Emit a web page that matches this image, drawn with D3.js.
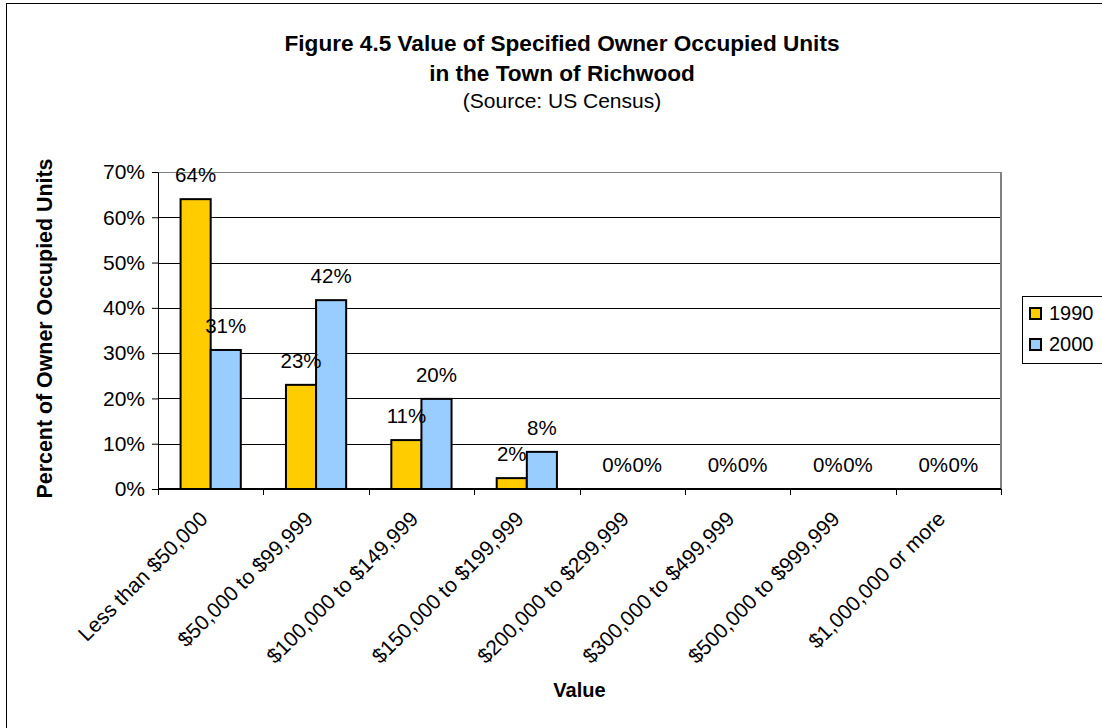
<!DOCTYPE html>
<html>
<head>
<meta charset="utf-8">
<script src="https://d3js.org/d3.v7.min.js"></script>
<style>
  body { margin: 0; background: #fff; }
  text { font-family: Arial, "Liberation Sans", sans-serif; fill: #000; }
</style>
</head>
<body>
<script>
// Chart data
var categories = ["Less than $50,000", "$50,000 to $99,999", "$100,000 to $149,999",
    "$150,000 to $199,999", "$200,000 to $299,999", "$300,000 to $499,999",
    "$500,000 to $999,999", "$1,000,000 or more"];
var seriesNames = ["1990", "2000"];
var values1990 = [0.640, 0.230, 0.108, 0.024, 0, 0, 0, 0];
var values2000 = [0.307, 0.417, 0.199, 0.082, 0, 0, 0, 0];
var yTicks = [0, 0.1, 0.2, 0.3, 0.4, 0.5, 0.6, 0.7];
var colors = ["#FFCC00", "#99CCFF"];

var fullWidth = 1102, fullHeight = 728;

// Plot area
var margin = {top: 172, right: 101, bottom: 239, left: 158},
    width = fullWidth - margin.left - margin.right,
    height = fullHeight - margin.top - margin.bottom;

var svg = d3.select("body").append("svg")
    .attr("width", fullWidth)
    .attr("height", fullHeight);

// Outer chart border (runs off the right and bottom edges)
svg.append("rect")
    .attr("x", 6.5).attr("y", 3.5)
    .attr("width", fullWidth + 20).attr("height", fullHeight + 20)
    .style("fill", "none")
    .style("stroke", "#000")
    .style("stroke-width", 1);

// Title
var title = svg.append("text")
    .attr("x", 562)
    .attr("text-anchor", "middle");
title.append("tspan").attr("x", 562).attr("y", 51)
    .style("font-weight", "bold").style("font-size", "22.6px")
    .text("Figure 4.5 Value of Specified Owner Occupied Units");
title.append("tspan").attr("x", 562).attr("y", 81)
    .style("font-weight", "bold").style("font-size", "22.6px")
    .text("in the Town of Richwood");
title.append("tspan").attr("x", 562).attr("y", 108)
    .style("font-size", "21px")
    .text("(Source: US Census)");

var g = svg.append("g")
    .attr("transform", "translate(" + margin.left + "," + margin.top + ")");

// Scales
var x0 = d3.scaleBand()
    .domain(categories)
    .range([0, width])
    .padding(0);

var barW = x0.bandwidth() / 3.5;
var x1 = d3.scaleBand()
    .domain(seriesNames)
    .range([barW * 0.75, barW * 2.75])
    .padding(0);

var y = d3.scaleLinear()
    .domain([0, 0.7])
    .range([height, 0]);

// Gridlines
g.selectAll(".grid")
    .data(yTicks.slice(1))
    .enter().append("line")
    .attr("class", "grid")
    .attr("x1", 0).attr("x2", width)
    .attr("y1", function(d) { return Math.round(y(d)) + 0.5; })
    .attr("y2", function(d) { return Math.round(y(d)) + 0.5; })
    .style("stroke", function(d) { return d === 0.7 ? "#808080" : "#000"; })
    .style("stroke-width", 1);

// Plot area right border
g.append("line")
    .attr("x1", width).attr("x2", width)
    .attr("y1", 0).attr("y2", height)
    .style("stroke", "#808080")
    .style("stroke-width", 2);

// Bars
var rows = categories.map(function(c, i) {
    return {cat: c, vals: [
        {name: "1990", value: values1990[i]},
        {name: "2000", value: values2000[i]}
    ]};
});

var groups = g.selectAll(".group")
    .data(rows)
    .enter().append("g")
    .attr("class", "group")
    .attr("transform", function(d) { return "translate(" + x0(d.cat) + ",0)"; });

groups.selectAll("rect")
    .data(function(d) { return d.vals; })
    .enter().append("rect")
    .attr("x", function(d) { return x1(d.name); })
    .attr("y", function(d) { return y(d.value); })
    .attr("width", x1.bandwidth())
    .attr("height", function(d) { return height - y(d.value); })
    .style("fill", function(d, i) { return colors[i]; })
    .style("stroke", "#000")
    .style("stroke-width", 2);

// Data labels
var fmt = d3.format(".0%");
groups.selectAll(".lbl")
    .data(function(d) { return d.vals; })
    .enter().append("text")
    .attr("class", "lbl")
    .attr("x", function(d) { return x1(d.name) + x1.bandwidth() / 2; })
    .attr("y", function(d) { return y(d.value) - 17; })
    .attr("text-anchor", "middle")
    .style("font-size", "20.5px")
    .text(function(d) { return fmt(d.value); });

// Y axis
var yAxis = g.append("g")
    .call(d3.axisLeft(y).tickValues(yTicks).tickFormat(d3.format(".0%")).tickSize(6).tickSizeOuter(0));
yAxis.select(".domain").style("stroke", "#000");
yAxis.selectAll(".tick line").style("stroke", "#000");
yAxis.selectAll(".tick text")
    .attr("x", -13)
    .style("font-size", "21px")
    .style("font-family", "Arial, 'Liberation Sans', sans-serif");

// X axis with ticks at the band boundaries
var xAxis = g.append("g")
    .attr("transform", "translate(0," + height + ")");
xAxis.append("line")
    .attr("x1", 0).attr("x2", width)
    .style("stroke", "#000")
    .style("stroke-width", 2);
xAxis.selectAll(".xtick")
    .data(categories.concat(["end"]))
    .enter().append("line")
    .attr("class", "xtick")
    .attr("x1", function(d, i) { return Math.round(i * x0.step()) + 0.5; })
    .attr("x2", function(d, i) { return Math.round(i * x0.step()) + 0.5; })
    .attr("y1", 0).attr("y2", 6)
    .style("stroke", "#000");
xAxis.selectAll(".xlbl")
    .data(categories)
    .enter().append("text")
    .attr("class", "xlbl")
    .attr("text-anchor", "end")
    .attr("dy", "0.35em")
    .attr("transform", function(d) {
        return "translate(" + (x0(d) + x0.bandwidth() / 2 - 7) + ",26) rotate(-45)";
    })
    .style("font-size", "21px")
    .text(function(d) { return d; });

// Axis titles
svg.append("text")
    .attr("transform", "translate(52," + (margin.top + height / 2 - 2) + ") rotate(-90)")
    .attr("text-anchor", "middle")
    .style("font-weight", "bold")
    .style("font-size", "21.4px")
    .text("Percent of Owner Occupied Units");

svg.append("text")
    .attr("x", margin.left + width / 2)
    .attr("y", 697)
    .attr("text-anchor", "middle")
    .style("font-weight", "bold")
    .style("font-size", "20px")
    .text("Value");

// Legend (box runs off the right edge)
var legend = svg.append("g")
    .attr("transform", "translate(1022,296)");
legend.append("rect")
    .attr("x", 0.5).attr("y", 0.5)
    .attr("width", 100).attr("height", 67)
    .style("fill", "#fff")
    .style("stroke", "#000")
    .style("stroke-width", 1);
var items = legend.selectAll(".item")
    .data(seriesNames)
    .enter().append("g")
    .attr("class", "item")
    .attr("transform", function(d, i) { return "translate(0," + (17 + i * 31) + ")"; });
items.append("rect")
    .attr("x", 8).attr("y", -5)
    .attr("width", 11).attr("height", 11)
    .style("fill", function(d, i) { return colors[i]; })
    .style("stroke", "#000")
    .style("stroke-width", 2);
items.append("text")
    .attr("x", 27)
    .attr("dy", "0.35em")
    .style("font-size", "20px")
    .text(function(d) { return d; });
</script>
</body>
</html>
